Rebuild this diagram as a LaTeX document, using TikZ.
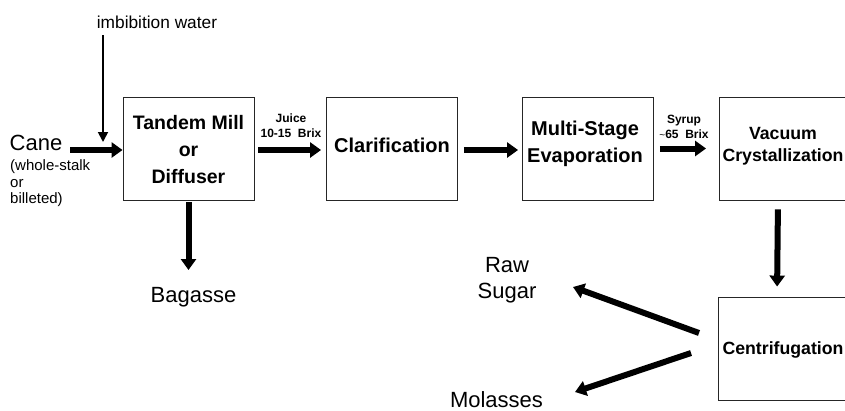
\documentclass[tikz,border=0pt]{standalone}
\usepackage{fontspec}
\setmainfont{Liberation Sans}
\usetikzlibrary{arrows.meta}
\begin{document}
\begin{tikzpicture}[x=1pt,y=1pt,
  box/.style={draw=black!85,line width=0.9pt,minimum width=131pt,minimum height=103pt,inner sep=0pt},
  boxtext/.style={inner sep=0pt,align=center,font=\bfseries\fontsize{20}{27}\selectfont},
  smalltext/.style={boxtext,font=\bfseries\fontsize{17.7}{22}\selectfont},
  plain/.style={inner sep=0pt,align=center,font=\fontsize{22}{26}\selectfont},
  flowlbl/.style={inner sep=0pt,align=center,font=\bfseries\fontsize{12}{15}\selectfont},
  bigarrow/.style={line width=6pt,-{Triangle[length=11pt,width=15pt]}},
  thinarrow/.style={line width=1.8pt,-{Triangle[length=10pt,width=10pt]}}
]
\useasboundingbox (0,0) rectangle (845,-410);
\clip (0,0) rectangle (845,-410);

% boxes
\node[box] (tm) at (188.5,-148.5) {};
\node[box] (cl) at (392,-148.5) {};
\node[box] (ms) at (588,-148.5) {};
\node[box] (vc) at (785,-148.5) {};
\node[box] (cf) at (784,-348.5) {};

% box texts
\node[boxtext,font=\bfseries\fontsize{19.5}{27}\selectfont] (tmt) at ([yshift=-1pt]tm.center) {Tandem Mill\\or\\Diffuser};
\node[boxtext] (clt) at ([yshift=3pt]cl.center) {Clarification};
\node[boxtext] (mst) at ([xshift=-3pt,yshift=5pt]ms.center) {Multi-Stage\\Evaporation};
\node[smalltext] (vct) at ([xshift=-2pt,yshift=2pt]vc.center) {Vacuum\\Crystallization};
\node[smalltext] (cft) at ([xshift=-1pt,yshift=-1pt]cf.center) {Centrifugation};

% texts
\node[inner sep=0pt,font=\fontsize{17.3}{20}\selectfont] (imb) at (157,-22) {imbibition water};
\node[plain] (cane) at (36,-143) {Cane};
\node[inner sep=0pt,anchor=west,align=left,font=\fontsize{15}{16.5}\selectfont] (canesub) at (10,-183.5) {(whole-stalk\\or\\billeted)};
\node[flowlbl] (juice) at (291,-125.5) {Juice\\10-15\ \ Brix};
\node[flowlbl] (syrup) at (684,-126.5) {Syrup\\{\mdseries\fontsize{10}{15}\selectfont\textasciitilde}65\ \ Brix};
\node[plain] (bag) at (193.5,-297) {Bagasse};
\node[plain] (raw) at (507,-280) {Raw\\Sugar};
\node[plain] (mol) at (496.5,-400) {Molasses};

% coordinates
\coordinate (canestart) at (70,-150);
\coordinate (imbtop) at (103,-35);
\coordinate (imbend) at (103,-142);
\coordinate (bagend) at (188.5,-270);
\coordinate (rawstart) at (699,-333);
\coordinate (rawend) at (573,-287);
\coordinate (molstart) at (691,-353);
\coordinate (molend) at (575,-392);

% connectors
\draw[bigarrow] (canestart) -- (canestart -| tm.west);
\draw[thinarrow] (imbtop) -- (imbend);
\draw[bigarrow,shorten <=4pt,shorten >=5pt] ([yshift=-1.5pt]tm.east) -- ([yshift=-1.5pt]cl.west);
\draw[bigarrow,shorten <=6pt,shorten >=4pt] ([yshift=-1.5pt]cl.east) -- ([yshift=-1.5pt]ms.west);
\draw[bigarrow,shorten <=6pt,shorten >=13pt] (ms.east) -- (vc.west);
\draw[bigarrow,shorten <=2pt] (tm.south) -- (bagend);
\draw[bigarrow,shorten <=9pt,shorten >=10pt] ([xshift=-7pt]vc.south) -- ([xshift=-7pt]cf.north);
\draw[bigarrow] (rawstart) -- (rawend);
\draw[bigarrow] (molstart) -- (molend);
\end{tikzpicture}
\end{document}
